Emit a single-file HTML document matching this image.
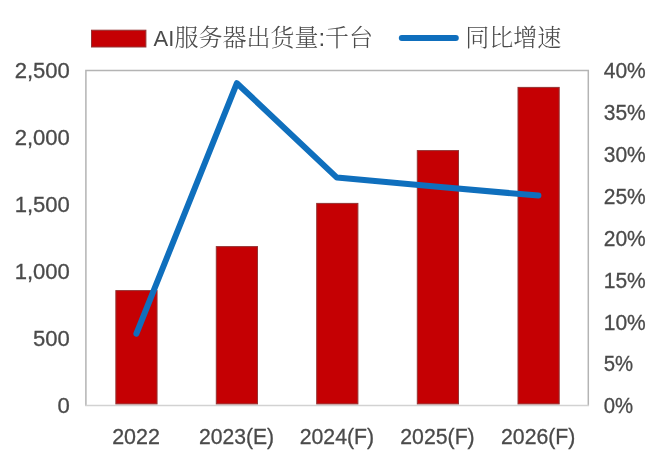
<!DOCTYPE html>
<html lang="zh">
<head>
<meta charset="utf-8">
<title>AI服务器出货量</title>
<style>
html,body{margin:0;padding:0;background:#fff;}
body{width:660px;height:465px;overflow:hidden;}
svg{display:block;}
.t{font-family:"Liberation Sans","Noto Sans CJK SC",sans-serif;font-size:22.6px;fill:#4a4a4a;stroke:#4a4a4a;stroke-width:0.3px;}
.c{font-family:"Liberation Sans","Noto Serif CJK SC",serif;font-size:24px;fill:#4a4a4a;font-weight:300;}
</style>
</head>
<body>
<svg width="660" height="465" viewBox="0 0 660 465">
<rect x="0" y="0" width="660" height="465" fill="#ffffff"/>
<path d="M85.90 406.10V70.40H588.30V406.10" fill="none" stroke="#b4b4b4" stroke-width="1.5"/>
<line x1="85.20" y1="405.50" x2="589.00" y2="405.50" stroke="#d2d2d2" stroke-width="1.4"/>
<g fill="#c50003" stroke="#943434" stroke-width="1">
<rect x="115.85" y="290.60" width="41.20" height="113.30"/>
<rect x="216.30" y="246.60" width="41.20" height="157.30"/>
<rect x="316.70" y="203.40" width="41.20" height="200.50"/>
<rect x="417.30" y="150.60" width="41.20" height="253.30"/>
<rect x="518.00" y="87.40" width="41.20" height="316.50"/>
</g>
<polyline points="136.4,333.7 236.9,83.2 336.9,177.6 437.8,186.8 538.4,195.6" fill="none" stroke="#0f6fbd" stroke-width="6" stroke-linecap="round" stroke-linejoin="round"/>
<rect x="91.5" y="30.2" width="54.4" height="16.8" fill="#c50003" stroke="#943434" stroke-width="1"/>
<line x1="401.8" y1="38" x2="455.8" y2="38" stroke="#0f6fbd" stroke-width="6" stroke-linecap="round"/>
<text class="c" x="153.6" y="46.4"><tspan style="font-size:22px">AI</tspan>服务器出货量:千台</text>
<text class="c" x="465.2" y="46.3">同比增速</text>
<g class="t" text-anchor="end">
<text x="69.9" y="77.65" textLength="55.2" lengthAdjust="spacingAndGlyphs">2,500</text>
<text x="69.9" y="144.80" textLength="55.2" lengthAdjust="spacingAndGlyphs">2,000</text>
<text x="69.9" y="211.95" textLength="55.2" lengthAdjust="spacingAndGlyphs">1,500</text>
<text x="69.9" y="279.10" textLength="55.2" lengthAdjust="spacingAndGlyphs">1,000</text>
<text x="69.9" y="346.25" textLength="36.8" lengthAdjust="spacingAndGlyphs">500</text>
<text x="69.9" y="413.40" textLength="12.3" lengthAdjust="spacingAndGlyphs">0</text>
</g>
<g class="t">
<text x="603.7" y="77.80" textLength="42.1" lengthAdjust="spacingAndGlyphs">40%</text>
<text x="603.7" y="119.75" textLength="42.1" lengthAdjust="spacingAndGlyphs">35%</text>
<text x="603.7" y="161.70" textLength="42.1" lengthAdjust="spacingAndGlyphs">30%</text>
<text x="603.7" y="203.65" textLength="42.1" lengthAdjust="spacingAndGlyphs">25%</text>
<text x="603.7" y="245.60" textLength="42.1" lengthAdjust="spacingAndGlyphs">20%</text>
<text x="603.7" y="287.55" textLength="42.1" lengthAdjust="spacingAndGlyphs">15%</text>
<text x="603.7" y="329.50" textLength="42.1" lengthAdjust="spacingAndGlyphs">10%</text>
<text x="603.7" y="371.45" textLength="29.4" lengthAdjust="spacingAndGlyphs">5%</text>
<text x="603.7" y="413.40" textLength="29.4" lengthAdjust="spacingAndGlyphs">0%</text>
</g>
<g class="t" text-anchor="middle">
<text x="136.05" y="444.1" textLength="47.8" lengthAdjust="spacingAndGlyphs">2022</text>
<text x="236.50" y="444.1" textLength="75.2" lengthAdjust="spacingAndGlyphs">2023(E)</text>
<text x="336.90" y="444.1" textLength="74.4" lengthAdjust="spacingAndGlyphs">2024(F)</text>
<text x="437.50" y="444.1" textLength="74.4" lengthAdjust="spacingAndGlyphs">2025(F)</text>
<text x="538.20" y="444.1" textLength="74.4" lengthAdjust="spacingAndGlyphs">2026(F)</text>
</g>
</svg>
</body>
</html>
